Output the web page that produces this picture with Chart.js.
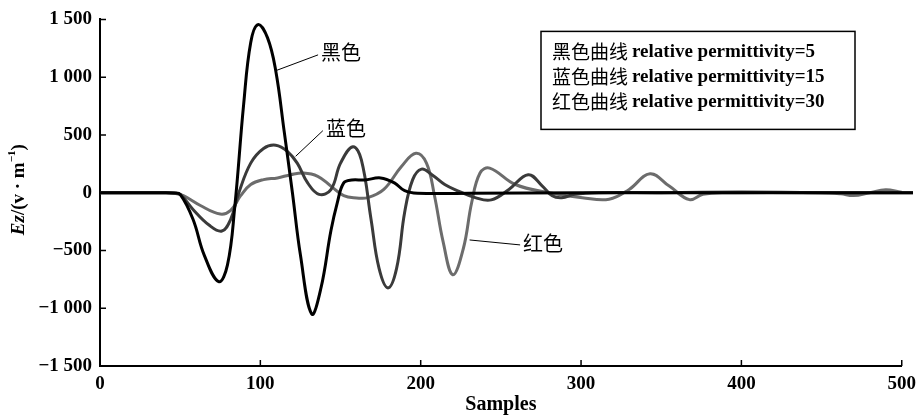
<!DOCTYPE html>
<html>
<head>
<meta charset="utf-8">
<script src="https://cdn.jsdelivr.net/npm/chart.js@4.4.1/dist/chart.umd.min.js"></script>
<style>
  html, body { margin: 0; padding: 0; background: #fff; }
  #wrap { width: 923px; height: 420px; }
</style>
</head>
<body>
<div id="wrap"><canvas id="graf"></canvas></div>
<script>
// dados (amostra, Ez)
var blackX = [0, 40, 46, 50, 58, 65, 74, 79.5, 84, 89.6, 94, 98.5, 104.5, 109.6, 114.8, 120, 125, 132, 137.8, 144, 148, 152, 157, 165, 175, 183.6, 190, 198, 230, 300, 400, 507];
var blackY = [0, 0, -3, -15, -230, -540, -770, -625, -130, 767, 1300, 1455, 1340, 1056, 537, 0, -540, -1050, -825, -330, -85, 85, 110, 110, 128, 85, 17, -5, -5, 0, 0, 0];

var blueX = [0, 40, 46, 50, 58, 68, 76, 81.5, 86.6, 94, 102, 109.6, 117, 123, 129.5, 136.6, 144, 150, 157.7, 163, 169, 174, 179.6, 185, 190, 195, 200.5, 207, 215, 223.5, 234, 244, 255, 267, 275.7, 282, 288, 296, 311, 350, 400, 450, 507];
var blueY = [0, 0, -3, -15, -145, -280, -332, -230, 0, 256, 383, 411, 356, 256, 85, -14, 26, 256, 398, 284, -227, -653, -824, -653, -170, 113, 204, 156, 71, 14, -43, -62, 28, 156, 60, -26, -43, -14, 0, 0, 5, 0, 0];

var redX = [0, 40, 46, 52, 62.6, 75, 81.5, 87.7, 94, 102, 110.7, 119, 127, 135.8, 144, 152, 160, 167, 177, 188, 197, 203.6, 208.6, 214, 220, 226.6, 231.8, 237, 243, 259, 280, 300.8, 317.5, 330, 343, 355, 367.6, 376, 390, 450, 462, 470, 480, 490, 500, 507];
var redY = [0, 0, -4, -26, -111, -185, -153, -26, 71, 113, 128, 156, 170, 142, 57, -26, -45, -43, 28, 227, 341, 256, -26, -426, -710, -483, -85, 170, 213, 71, 0, -43, -57, 28, 164, 57, -60, -14, 0, 0, -10, -25, 0, 25, 5, 0];

var xTicks = [0, 100, 200, 300, 400, 500];
var yTicks = [-1500, -1000, -500, 0, 500, 1000, 1500];

var legendNames = ["黑色曲线", "蓝色曲线", "红色曲线"];
var legendDescs = ["relative permittivity=5", "relative permittivity=15", "relative permittivity=30"];

// anotacoes: texto, ponto na curva e ponto do texto (unidades dos eixos)
var annText = ["黑色", "蓝色", "红色"];
var annFromX = [109.6, 122, 230.5];
var annFromY = [1056, 315, -409];
var annToX = [136, 139, 262];
var annToY = [1193, 537, -452];

var serif = "'Liberation Serif', 'DejaVu Serif', serif";
var cjk = "'Noto Sans CJK SC', sans-serif";

function pontos(xs, ys) {
  var out = [];
  for (var i in xs) {
    out.push({x: xs[i], y: ys[i]});
  }
  return out;
}

function formatar(v) {
  var a = Math.abs(v);
  var s = a >= 1000 ? Math.floor(a / 1000) + " " + String(a % 1000).padStart(3, "0") : String(a);
  return (v < 0 ? "\u2212" : "") + s;
}

// marcas de escala para dentro
var marcas = {
  id: "marcas",
  afterDraw: function (chart) {
    var ctx = chart.ctx, a = chart.chartArea, x = chart.scales.x, y = chart.scales.y;
    ctx.save();
    ctx.strokeStyle = "#000";
    ctx.lineWidth = 1.5;
    ctx.beginPath();
    x.ticks.forEach(function (t) {
      var px = x.getPixelForValue(t.value);
      ctx.moveTo(px, a.bottom);
      ctx.lineTo(px, a.bottom - 6);
    });
    y.ticks.forEach(function (t) {
      var py = y.getPixelForValue(t.value);
      ctx.moveTo(a.left, py);
      ctx.lineTo(a.left + 6, py);
    });
    ctx.stroke();
    ctx.restore();
  }
};

// titulo do eixo y com Ez em italico e expoente
var tituloY = {
  id: "tituloY",
  afterDraw: function (chart) {
    var ctx = chart.ctx, a = chart.chartArea;
    var partes = [
      {t: "Ez", f: "italic bold 19px " + serif, dy: 0},
      {t: "/(v · m", f: "bold 19px " + serif, dy: 0},
      {t: "\u22121", f: "bold 11px " + serif, dy: -7},
      {t: ")", f: "bold 19px " + serif, dy: 0}
    ];
    ctx.save();
    var total = 0;
    partes.forEach(function (p) { ctx.font = p.f; p.w = ctx.measureText(p.t).width; total += p.w; });
    ctx.translate(19, (a.top + a.bottom) / 2 - 3);
    ctx.rotate(-Math.PI / 2);
    ctx.fillStyle = "#000";
    ctx.textBaseline = "middle";
    var cx = -total / 2;
    partes.forEach(function (p) {
      ctx.font = p.f;
      ctx.fillText(p.t, cx, p.dy);
      cx += p.w;
    });
    ctx.restore();
  }
};

// caixa da legenda
var caixa = {
  id: "caixa",
  afterDraw: function (chart) {
    var ctx = chart.ctx, a = chart.chartArea;
    var left = a.left + 441, top = a.top + 12, w = 314, h = 98;
    ctx.save();
    ctx.strokeStyle = "#000";
    ctx.lineWidth = 1.5;
    ctx.fillStyle = "#fff";
    ctx.fillRect(left, top, w, h);
    ctx.strokeRect(left, top, w, h);
    ctx.fillStyle = "#000";
    ctx.textBaseline = "middle";
    for (var i = 0; i < legendNames.length; i++) {
      var ty = top + 20 + i * 25;
      ctx.font = "19px " + cjk;
      ctx.fillText(legendNames[i], left + 11, ty);
      var nw = ctx.measureText(legendNames[i]).width;
      ctx.font = "bold 19px " + serif;
      ctx.fillText(legendDescs[i], left + 11 + nw + 4, ty + 1);
    }
    ctx.restore();
  }
};

// rotulos das curvas com linha de chamada
var rotulos = {
  id: "rotulos",
  afterDraw: function (chart) {
    var ctx = chart.ctx, x = chart.scales.x, y = chart.scales.y;
    ctx.save();
    ctx.strokeStyle = "#000";
    ctx.lineWidth = 1;
    ctx.fillStyle = "#000";
    ctx.font = "20px " + cjk;
    ctx.textBaseline = "middle";
    for (var i = 0; i < annText.length; i++) {
      var x0 = x.getPixelForValue(annFromX[i]), y0 = y.getPixelForValue(annFromY[i]);
      var x1 = x.getPixelForValue(annToX[i]), y1 = y.getPixelForValue(annToY[i]);
      ctx.beginPath();
      ctx.moveTo(x0, y0);
      ctx.lineTo(x1, y1);
      ctx.stroke();
      ctx.fillText(annText[i], x1 + 3, y1 - 2);
    }
    ctx.restore();
  }
};

var graf = new Chart(document.getElementById("graf"), {
  type: "line",
  data: {
    datasets: [{
      label: legendNames[0] + " " + legendDescs[0],
      data: pontos(blackX, blackY),
      borderColor: "#000000",
      borderWidth: 3
    }, {
      label: legendNames[1] + " " + legendDescs[1],
      data: pontos(blueX, blueY),
      borderColor: "#3a3a3a",
      borderWidth: 3
    }, {
      label: legendNames[2] + " " + legendDescs[2],
      data: pontos(redX, redY),
      borderColor: "#6c6c6c",
      borderWidth: 3
    }]
  },
  options: {
    responsive: true,
    maintainAspectRatio: false,
    animation: false,
    layout: { padding: { top: 14, right: 21, left: 0, bottom: 0 } },
    elements: {
      point: { radius: 0 },
      line: { tension: 0.4, fill: false }
    },
    datasets: { line: { clip: false } },
    plugins: {
      legend: { display: false },
      tooltip: { enabled: false }
    },
    scales: {
      x: {
        type: "linear",
        min: 0,
        max: 500,
        afterBuildTicks: function (scale) {
          scale.ticks = xTicks.map(function (v) { return {value: v}; });
        },
        afterFit: function (scale) { scale.height = 54; },
        grid: { display: false, drawTicks: false },
        border: { display: true, color: "#000", width: 2 },
        ticks: {
          color: "#000",
          padding: 7,
          maxRotation: 0,
          font: { family: serif, size: 19, weight: "bold" }
        },
        title: {
          display: true,
          text: "Samples",
          color: "#000",
          padding: { top: 0, bottom: 3 },
          font: { family: serif, size: 20, weight: "bold" }
        }
      },
      y: {
        min: -1500,
        max: 1500,
        afterBuildTicks: function (scale) {
          scale.ticks = yTicks.map(function (v) { return {value: v}; });
        },
        afterFit: function (scale) { scale.width = 100; },
        grid: { display: false, drawTicks: false },
        border: { display: true, color: "#000", width: 2 },
        ticks: {
          color: "#000",
          padding: 8,
          callback: function (v) { return formatar(v); },
          font: { family: serif, size: 19, weight: "bold" }
        },
        title: { display: false }
      }
    }
  },
  plugins: [marcas, tituloY, caixa, rotulos]
});
</script>
</body>
</html>
